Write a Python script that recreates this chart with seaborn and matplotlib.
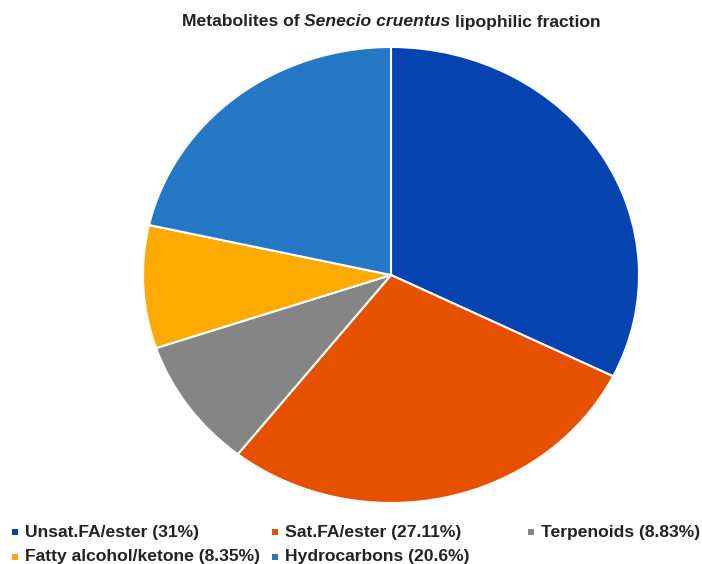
import matplotlib
matplotlib.use("Agg")
import matplotlib.pyplot as plt
from matplotlib.patches import Rectangle
import seaborn as sns

categories = ["Unsat.FA/ester", "Sat.FA/ester", "Terpenoids", "Fatty alcohol/ketone", "Hydrocarbons"]
values = [31, 27.11, 8.83, 8.35, 20.6]
colors = ["#0543B0", "#E65100", "#858585", "#FFAA00", "#2478C6"]
title_parts = ["Metabolites of", "Senecio cruentus", "lipophilic fraction"]
title_styles = ["normal", "italic", "normal"]

sns.set_theme(style="white")
plt.rcParams["font.family"] = ["Liberation Sans", "DejaVu Sans"]

W, H = 702, 564
fig = plt.figure(figsize=(W / 100, H / 100), dpi=100)
fig.patch.set_facecolor("white")

# pie axes: center (391,275), rx 248, ry 228 (pixels)
cx, cy, rx, ry = 391, 275, 248, 228
ax = fig.add_axes([(cx - rx) / W, (H - cy - ry) / H, 2 * rx / W, 2 * ry / H])
ax.pie(values, colors=colors, startangle=90, counterclock=False,
       wedgeprops=dict(edgecolor="white", linewidth=1.5))
ax.set_aspect("auto")
ax.set_xlim(-1, 1)
ax.set_ylim(-1, 1)
ax.axis("off")

txtcol = "#222222"
fs_title = 12.6
fs_leg = 12.6

# Title with italic middle part
renderer = fig.canvas.get_renderer()
pieces = []
for part, st in zip(title_parts, title_styles):
    t = fig.text(0, 1 - 22 / H, part, fontsize=fs_title, fontweight="bold", style=st,
                 color=txtcol, ha="left", va="center")
    pieces.append(t)
widths = [p.get_window_extent(renderer).width for p in pieces]
gap = 4.8
total = sum(widths) + gap * (len(widths) - 1)
x = 391.5 - total / 2
for p, w in zip(pieces, widths):
    p.set_x(x / W)
    x += w + gap

# Legend (manual layout, rows as in reference)
legend_pos = [(12, 532), (272, 532), (528, 532), (12, 557), (272, 557)]
for (mx, my), cat, val, col in zip(legend_pos, categories, values, colors):
    fig.patches.append(Rectangle(((mx) / W, (H - my - 3) / H), 6 / W, 6 / H,
                                 transform=fig.transFigure, facecolor=col,
                                 edgecolor="none"))
    fig.text((mx + 13) / W, 1 - my / H, f"{cat} ({val:g}%)", fontsize=fs_leg,
             fontweight="bold", color=txtcol, ha="left", va="center")

fig.savefig("out.png", dpi=100, facecolor="white")
